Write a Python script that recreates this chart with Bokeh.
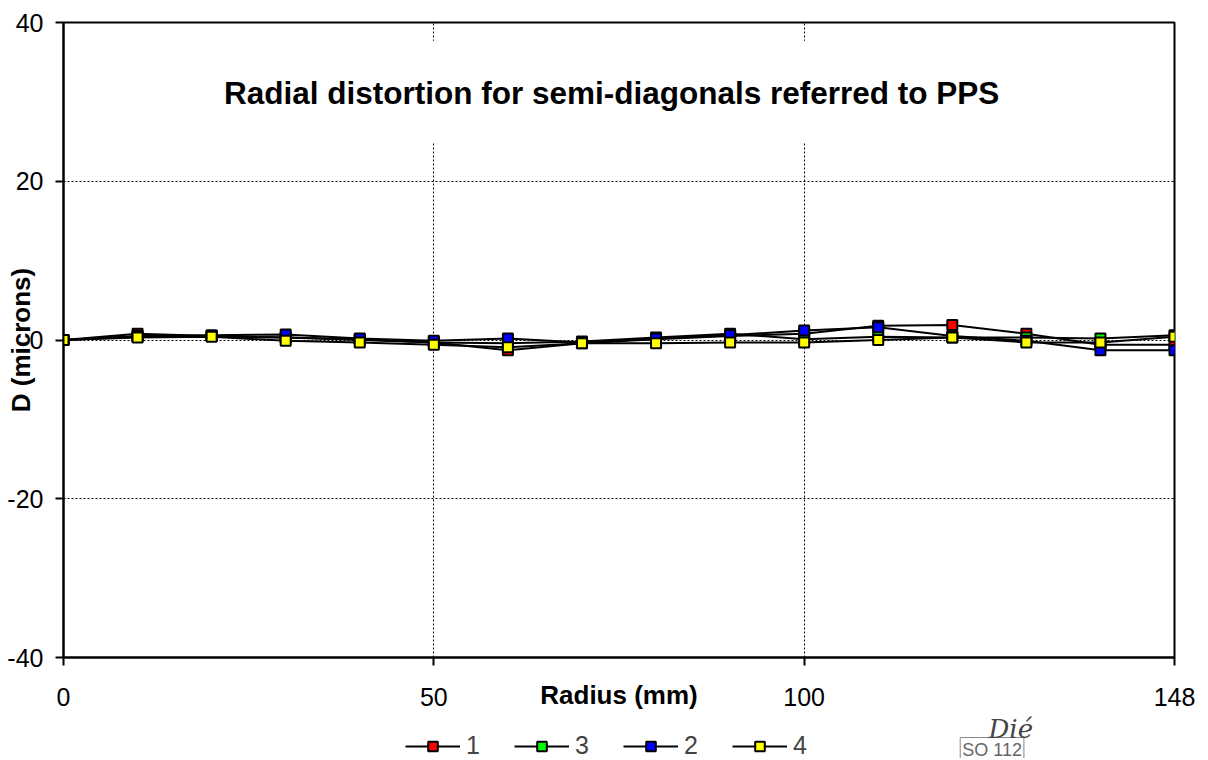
import math
from bokeh.plotting import figure
from bokeh.layouts import column
from bokeh.models import Range1d, Label, Legend, LegendItem, BoxAnnotation, FixedTicker
from bokeh.embed import file_html
from bokeh.resources import INLINE

# category labels (radius in mm) on the x axis
radius = [0, 10, 20, 30, 40, 50, 60, 70, 80, 90, 100, 110, 120, 130, 140, 148]
tick_labels = ["0", "50", "100", "148"]
tick_radius = [0, 50, 100, 148]
y_ticks = [-40, -20, 0, 20, 40]
y_tick_labels = ["-40", "-20", "0", "20", "40"]

# radial distortion (microns) per semi-diagonal
s1 = [0.0, 0.8, 0.5, 0.3, 0.1, -0.3, -1.3, -0.4, 0.1, 0.5, 0.8, 1.8, 1.9, 0.8, -0.6, -0.6]
s3 = [0.0, 0.4, 0.5, 0.3, 0.0, -0.3, -0.4, -0.2, 0.3, 0.8, 0.1, 0.4, 0.3, 0.3, 0.2, 0.6]
s2 = [0.0, 0.5, 0.6, 0.7, 0.2, -0.1, 0.2, -0.3, 0.2, 0.6, 1.2, 1.6, 0.5, -0.1, -1.3, -1.3]
s4 = [0.0, 0.3, 0.4, -0.1, -0.3, -0.6, -0.9, -0.4, -0.4, -0.3, -0.3, 0.0, 0.3, -0.3, -0.3, 0.4]

series = [("1", s1, "#ff0000"), ("3", s3, "#00ff00"), ("2", s2, "#0000ff"), ("4", s4, "#ffff00")]

FONT = "Liberation Sans"
idx = list(range(len(radius)))

p = figure(frame_width=1111, frame_height=635, output_backend="svg", toolbar_location=None,
           x_range=Range1d(0, len(radius) - 1), y_range=Range1d(-40, 40),
           min_border_left=63, min_border_right=34, min_border_top=22, min_border_bottom=55,
           background_fill_color="white", border_fill_color="white")

p.outline_line_color = "black"
p.outline_line_width = 2

# axes
tick_pos = [radius.index(r) for r in tick_radius]
p.xaxis.ticker = FixedTicker(ticks=tick_pos)
p.xaxis.major_label_overrides = {pos: lab for pos, lab in zip(tick_pos, tick_labels)}
p.yaxis.ticker = FixedTicker(ticks=y_ticks)
p.yaxis.major_label_overrides = {t: lab for t, lab in zip(y_ticks, y_tick_labels)}
for ax in (p.xaxis, p.yaxis):
    ax.axis_line_color = "black"
    ax.axis_line_width = 2
    ax.major_tick_line_color = "black"
    ax.major_tick_line_width = 2
    ax.major_tick_out = 8
    ax.major_tick_in = 0
    ax.minor_tick_line_color = None
    ax.major_label_text_font = FONT
    ax.major_label_text_font_size = "25px"
    ax.major_label_text_color = "black"
    ax.axis_label_text_font = FONT
    ax.axis_label_text_font_style = "bold"
    ax.axis_label_text_font_size = "26px"
    ax.axis_label_text_color = "black"
p.xaxis.major_label_standoff = 22
p.yaxis.major_label_standoff = 12
p.xaxis.axis_label = "Radius (mm)"
p.xaxis.axis_label_standoff = -29
p.yaxis.axis_label = "D (microns)"
p.yaxis.axis_label_standoff = -32

# grid
p.xgrid.ticker = FixedTicker(ticks=[5, 10])
p.ygrid.ticker = FixedTicker(ticks=[-20, 0, 20])
for g in (p.xgrid, p.ygrid):
    g.grid_line_color = "black"
    g.grid_line_dash = "2 2"
    g.grid_line_width = 1

# white box behind the title
p.add_layout(BoxAnnotation(left=2.0, right=13.0, bottom=24.9, top=37.7,
                           fill_color="white", fill_alpha=1.0, line_color=None))

for name, vals, col in series:
    p.line(idx, vals, line_color="black", line_width=2)
for name, vals, col in series:
    p.scatter(idx, vals, marker="square", size=10, fill_color=col,
              line_color="black", line_width=2)

p.add_layout(Label(x=7.4, y=31.1, text="Radial distortion for semi-diagonals referred to PPS",
                   text_font=FONT, text_font_style="bold", text_font_size="31.5px",
                   text_align="center", text_baseline="middle", text_color="black"))

# bottom strip: legend and approval stamp (its y range keeps the proxy series out of view)
p2 = figure(width=1208, height=46, output_backend="svg", toolbar_location=None,
            x_range=Range1d(0, 1208), y_range=Range1d(100, 146), min_border=0,
            x_axis_location=None, y_axis_location=None,
            background_fill_color="white", border_fill_color="white")
p2.outline_line_color = None
p2.xgrid.visible = False
p2.ygrid.visible = False

items = []
for name, vals, col in series:
    l = p2.line(idx, vals, line_color="black", line_width=2)
    m = p2.scatter(idx, vals, marker="square", size=10, fill_color=col, line_color="black", line_width=2)
    items.append(LegendItem(label=name, renderers=[l, m]))

legend = Legend(items=items, orientation="horizontal", location=(342, -2),
                padding=0, margin=0, spacing=28, glyph_width=55, glyph_height=24,
                label_standoff=6, label_height=24,
                label_text_font=FONT, label_text_font_size="25px",
                background_fill_alpha=0, border_line_color=None)
p2.add_layout(legend, "center")

p2.add_layout(Label(x=975, y=109, text="SO 112", text_font=FONT, text_font_size="18px",
                    text_color="#666666", text_align="left", text_baseline="middle",
                    border_line_color="#888888", border_line_width=1, padding=2))
p2.add_layout(Label(x=1030, y=130, text="Dié", text_font="DejaVu Serif", text_font_style="italic",
                    text_font_size="26px", text_color="#444444", text_align="center",
                    text_baseline="middle"))

open("out.html", "w").write(file_html(column(p, p2, spacing=0), INLINE))
